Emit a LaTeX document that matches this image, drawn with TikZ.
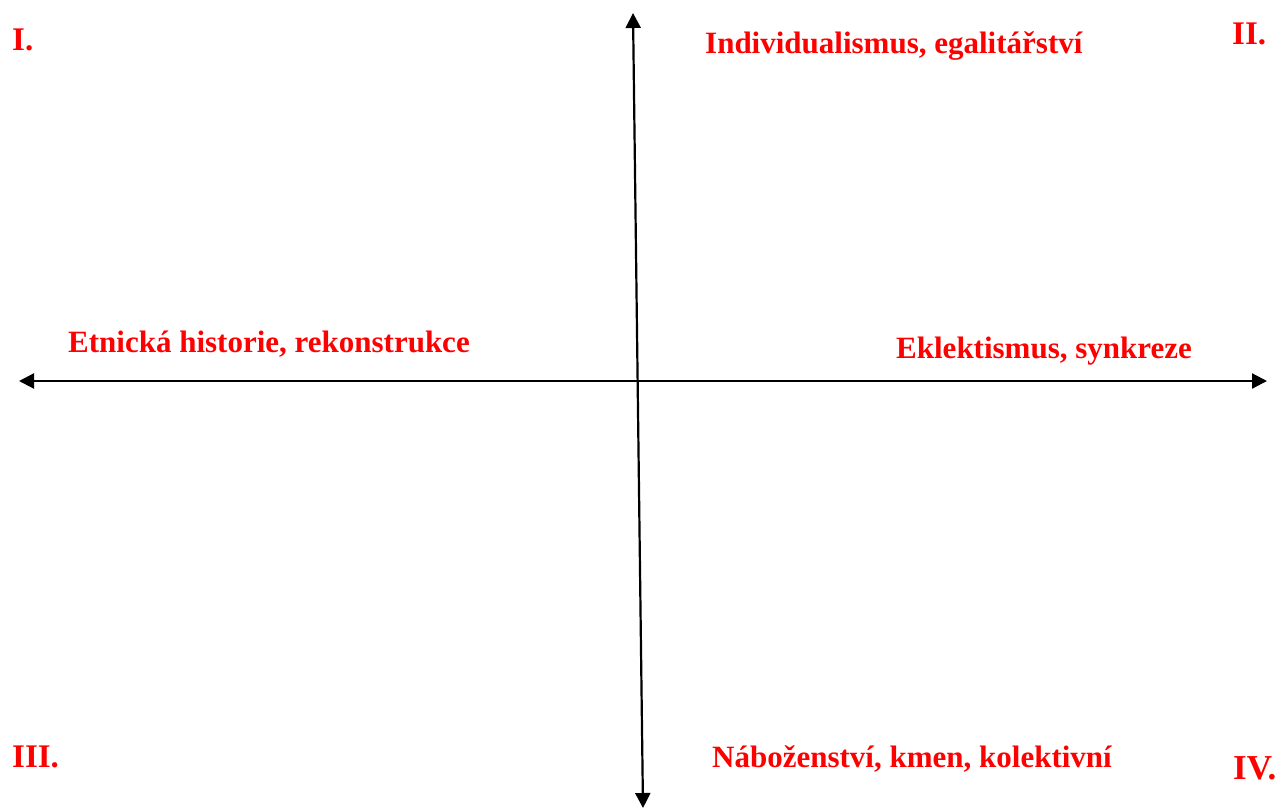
\documentclass[tikz,border=0pt]{standalone}
\usepackage{fontspec}
\setmainfont{Liberation Serif}
\usetikzlibrary{arrows.meta}
\definecolor{lblred}{RGB}{255,0,0}
\tikzset{
  lbl/.style={anchor=base west, inner sep=0pt, text=lblred, font=\fontsize{31}{36}\selectfont\bfseries},
  quad/.style={lbl, font=\fontsize{33}{38}\selectfont\bfseries},
  axis/.style={line width=2.2pt, {Triangle[length=15pt,width=15pt]}-{Triangle[length=15pt,width=15pt]}}
}
\begin{document}
\begin{tikzpicture}[x=1pt,y=-1pt]
\useasboundingbox (0,0) rectangle (1282,808);
\coordinate (top) at (633,13);
\coordinate (bot) at (643,808);
\coordinate (lft) at (19,381);
\coordinate (rgt) at (1267,381);
\draw[axis] (top) -- (bot);
\draw[axis] (lft) -- (rgt);
\node[quad] (q1) at (12,51) {I.};
\node[quad] (q2) at (1232,45) {II.};
\node[quad] (q3) at (12,767) {III.};
\node[quad,font=\fontsize{35}{40}\selectfont\bfseries] (q4) at (1233,779) {IV.};
\node[lbl] (n) at (705,53) {Individualismus, egalitářství};
\node[lbl] (w) at (68,352) {Etnická historie, rekonstrukce};
\node[lbl] (e) at (896,358) {Eklektismus, synkreze};
\node[lbl] (s) at (712,767) {Náboženství, kmen, kolektivní};
\end{tikzpicture}
\end{document}
